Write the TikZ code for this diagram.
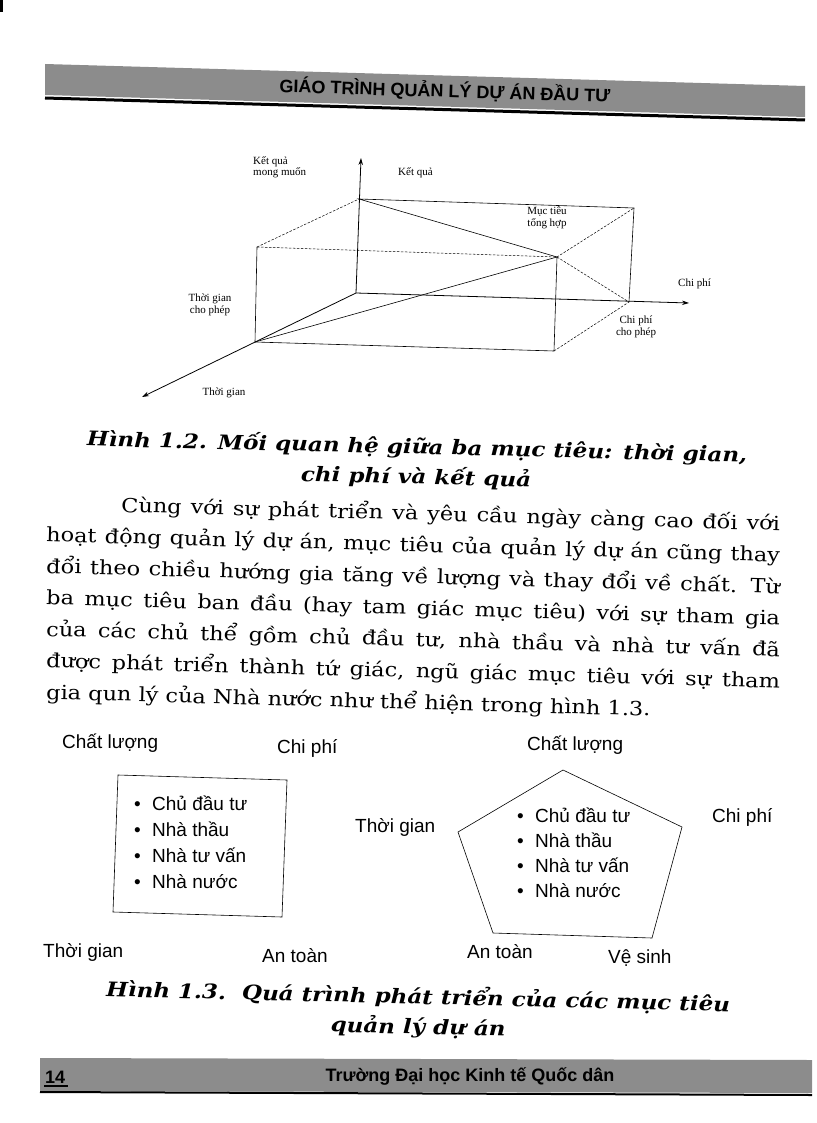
\documentclass[tikz,border=0pt]{standalone}
\usepackage{fontspec}
\setmainfont{DejaVu Serif}[FakeStretch=1.15]
\newfontfamily\figserif{Liberation Serif}
\newfontfamily\figsans{Liberation Sans}
\usetikzlibrary{arrows.meta, positioning, calc}
\definecolor{bandgray}{RGB}{140,140,140}
\tikzset{
  axis/.style={line width=0.8pt, -{Stealth[length=7pt, width=4.5pt]}},
  edge/.style={line width=0.6pt},
  hidden/.style={line width=0.5pt, dash pattern=on 2.5pt off 1.5pt},
  tinylbl/.style={font=\figserif\fontsize{11}{11.5}\selectfont, align=center, inner sep=0pt, anchor=base},
  bodyline/.style={font=\fontsize{19.5}{29}\selectfont, anchor=base west, inner sep=0pt, rotate=-1.6},
  figcaption/.style={font=\bfseries\itshape\fontsize{20}{28}\selectfont, anchor=base, inner sep=0pt, rotate=-1.4},
  goal/.style={font=\figsans\fontsize{19}{24}\selectfont, anchor=base west, inner sep=0pt},
  member/.style={font=\figsans\fontsize{19}{24}\selectfont, anchor=base west, inner sep=0pt},
  band/.style={fill=bandgray, draw=none},
  bandtext/.style={font=\figsans\bfseries\fontsize{18}{20}\selectfont, inner sep=0pt}
}

\begin{document}
\begin{tikzpicture}[x=1pt, y=-1pt]
\useasboundingbox (0,0) rectangle (816,1123);
\fill (0,0) rectangle (3,12);

% header
\fill[band] (45,64) -- (805,86) -- (805,117) -- (45,95) -- cycle;
\draw[line width=3pt] (45,98) -- (805,120);
\node[bandtext, rotate=-1.7] (head) at (445,91) {GIÁO TRÌNH QUẢN LÝ DỰ ÁN ĐẦU TƯ};

% hinh 1.2
\coordinate (O) at (356,293);
\coordinate (Otop) at (361,158);
\coordinate (R) at (359,199);
\coordinate (T) at (255,342);
\coordinate (Tend) at (142,397);
\coordinate (Ttop) at (257,247);
\coordinate (F) at (554,351);
\coordinate (M) at (557,257);
\coordinate (B) at (634,208);
\coordinate (C) at (629,302);
\coordinate (Cend) at (689,303);

\draw[axis] (O) -- (Otop);
\draw[axis] (O) -- (Cend);
\draw[axis] (O) -- (Tend);
\draw[edge] (T) -- (Ttop);
\draw[edge] (T) -- (F) -- (M) -- (R) -- (B) -- (C);
\draw[edge] (T) -- (M);
\draw[hidden] (Ttop) -- (R);
\draw[hidden] (Ttop) -- (M) -- (B);
\draw[hidden] (M) -- (C);
\draw[hidden] (F) -- (C);

\node[tinylbl, anchor=base west, align=left] (kqmm) at (253,176) {Kết quả\\mong muốn};
\node[tinylbl, anchor=base west] (kq) at (398,176) {Kết quả};
\node[tinylbl] (mtth) at (547,226) {Mục tiêu\\tổng hợp};
\node[tinylbl, anchor=base west] (cp) at (678,286) {Chi phí};
\node[tinylbl] (cpcp) at (636,335) {Chi phí\\cho phép};
\node[tinylbl] (tgcp) at (210,313) {Thời gian\\cho phép};
\node[tinylbl] (tg) at (224,395) {Thời gian};

\node[figcaption] (cap1a) at (417,454) {Hình 1.2. Mối quan hệ giữa ba mục tiêu: thời gian,};
\node[figcaption] (cap1b) at (416,484) {chi phí và kết quả};

% doan van
\node[bodyline] (l1) at (121,512) {\makebox[659pt][s]{Cùng với sự phát triển và yêu cầu ngày càng cao đối với}};
\node[bodyline] (l2) at (46,541.5) {\makebox[734pt][s]{hoạt động quản lý dự án, mục tiêu của quản lý dự án cũng thay}};
\node[bodyline] (l3) at (46,573) {\makebox[734pt][s]{đổi theo chiều hướng gia tăng về lượng và thay đổi về chất. Từ}};
\node[bodyline] (l4) at (46,604.5) {\makebox[734pt][s]{ba mục tiêu ban đầu (hay tam giác mục tiêu) với sự tham gia}};
\node[bodyline] (l5) at (46,636) {\makebox[734pt][s]{của các chủ thể gồm chủ đầu tư, nhà thầu và nhà tư vấn đã}};
\node[bodyline] (l6) at (46,667.5) {\makebox[734pt][s]{được phát triển thành tứ giác, ngũ giác mục tiêu với sự tham}};
\node[bodyline] (l7) at (46,699) {gia qun lý của Nhà nước như thể hiện trong hình 1.3.};

% hinh 1.3 - tu giac
\node[goal] (cl1) at (62,748) {Chất lượng};
\node[goal] (cp1) at (277,753) {Chi phí};
\node[goal] (tg1) at (43,957) {Thời gian};
\node[goal] (at1) at (262,962) {An toàn};
\draw[edge] (118,775) -- (287,780) -- (282,917) -- (113,912) -- cycle;
\foreach \who [count=\i] in {Chủ đầu tư, Nhà thầu, Nhà tư vấn, Nhà nước}
  \node[member] (lm\i) at (134,784+26*\i) {\makebox[18pt][l]{•}\who};

% ngu giac
\node[goal] (cl2) at (527,750) {Chất lượng};
\node[goal] (tg2) at (355,832) {Thời gian};
\node[goal] (cp2) at (712,822) {Chi phí};
\node[goal] (at2) at (467,958) {An toàn};
\node[goal] (vs2) at (608,963) {Vệ sinh};
\draw[edge] (563,770) -- (682,827) -- (652,938) -- (493,933) -- (458,832) -- cycle;
\foreach \who [count=\i] in {Chủ đầu tư, Nhà thầu, Nhà tư vấn, Nhà nước}
  \node[member] (rm\i) at (517,797+25*\i) {\makebox[18pt][l]{•}\who};

\node[figcaption] (cap2a) at (418,1004) {Hình 1.3.\ \ Quá trình phát triển của các mục tiêu};
\node[figcaption] (cap2b) at (418,1034) {quản lý dự án};

% footer
\fill[band] (40,1058) -- (812,1060) -- (812,1093) -- (40,1091) -- cycle;
\draw[line width=2pt] (40,1092) -- (812,1095);
\node[bandtext, anchor=base west] (page) at (45,1083) {14};
\draw[line width=2pt] (44,1086) -- (68,1086);
\node[bandtext] (school) at (470,1076) {Trường Đại học Kinh tế Quốc dân};
\end{tikzpicture}
\end{document}
